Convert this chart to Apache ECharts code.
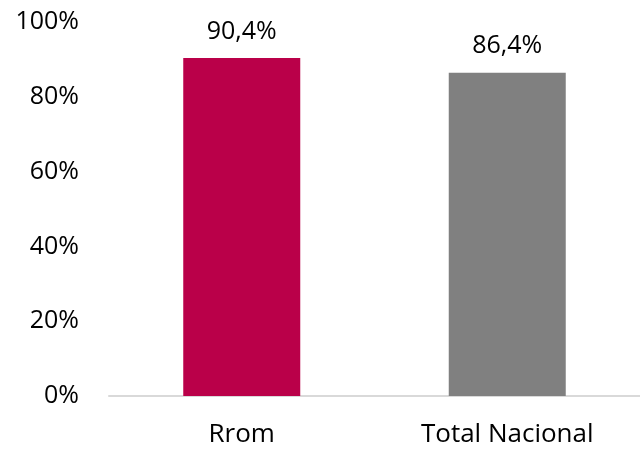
<!DOCTYPE html>
<html>
<head>
<meta charset="utf-8">
<script src="https://cdn.jsdelivr.net/npm/echarts@6/dist/echarts.min.js"></script>
<style>
  html, body { margin: 0; padding: 0; background: #fff; }
  #chart { width: 640px; height: 449px; }
</style>
</head>
<body>
<div id="chart"></div>
<script>
// datos
const categorias = ['Rrom', 'Total Nacional']
const valores = [90.4, 86.4]
const colores = ['#BA0049', '#808080']

const fontFam = '"Open Sans", "Noto Sans", sans-serif'

const chart = echarts.init(document.getElementById('chart'))
chart.setOption({
  animation: false,
  grid: { left: 109, right: -3, top: 22, bottom: 53 },
  xAxis: {
    type: 'category',
    data: categorias,
    axisLine: { lineStyle: { color: '#D9D9D9', width: 2 } },
    axisTick: { show: false },
    axisLabel: { color: '#000', fontSize: 26, fontFamily: fontFam, margin: 26 }
  },
  yAxis: {
    type: 'value',
    min: 0,
    max: 100,
    interval: 20,
    axisLine: { show: false },
    axisTick: { show: false },
    splitLine: { show: false },
    axisLabel: {
      color: '#000', fontSize: 25, fontFamily: fontFam, margin: 30,
      formatter: '{value}%'
    }
  },
  series: [{
    type: 'bar',
    barWidth: 117,
    data: valores.map((v, i) => ({ value: v, itemStyle: { color: colores[i] } })),
    label: {
      show: true,
      position: 'top',
      distance: 14,
      color: '#000',
      fontSize: 25,
      fontFamily: fontFam,
      formatter: p => p.value.toFixed(1).replace('.', ',') + '%'
    }
  }]
})
</script>
</body>
</html>
